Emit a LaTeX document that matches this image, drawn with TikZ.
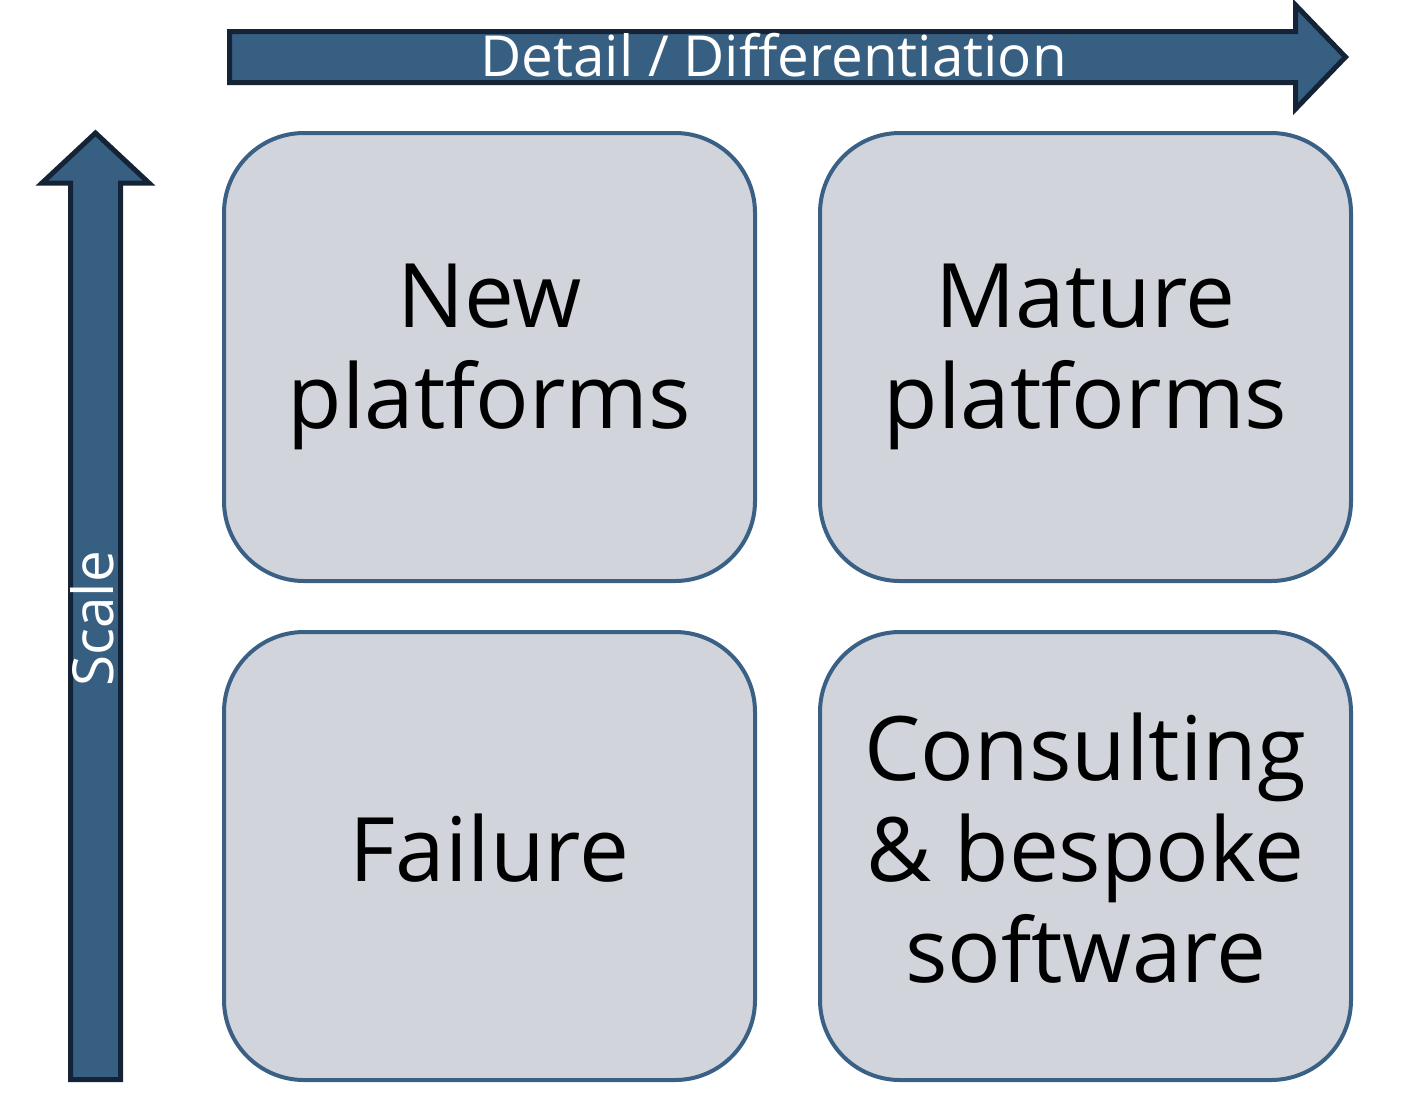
\documentclass[tikz,border=0pt]{standalone}
\usepackage{fontspec}
\setmainfont{Open Sans}
\usetikzlibrary{positioning}
\definecolor{arrowblue}{RGB}{55,95,130}
\definecolor{arrowedge}{RGB}{20,36,54}
\definecolor{boxedge}{RGB}{58,96,133}
\definecolor{boxfill}{RGB}{209,213,219}

\begin{document}
\begin{tikzpicture}[x=0.5pt,y=-0.5pt,
  quad/.style={draw=boxedge,fill=boxfill,line width=2pt,rounded corners=40pt,
    minimum width=265.5pt,minimum height=224pt,align=center,
    font=\fontsize{44.5}{50.5}\selectfont},
  axis/.style={draw=arrowedge,fill=arrowblue,line width=2.5pt,line join=miter},
  axislabel/.style={text=white,inner sep=0pt,font=\fontsize{28.3}{30}\selectfont}]
\useasboundingbox (0,0) rectangle (1406,1110);
% axes
\draw[axis] (229.5,31.5) -- (1295.5,31.5) -- (1295.5,5) -- (1345.5,57)
  -- (1295.5,109) -- (1295.5,82.5) -- (229.5,82.5) -- cycle;
\node[axislabel] (detail) at (773.5,55) {Detail / Differentiation};
\draw[axis] (70.5,1079.5) -- (70.5,183) -- (42,183) -- (95.5,133)
  -- (149,183) -- (120.5,183) -- (120.5,1079.5) -- cycle;
\node[axislabel,rotate=90] (scale) at (92.5,619) {Scale};
% quadrants
\node[quad] (newplat) at (489.5,357) {New\\platforms};
\node[quad,right=30.5pt of newplat] (matplat) {Mature\\platforms};
\node[quad,below=23.5pt of newplat,text depth=8pt] (failure) {Failure};
\node[quad,right=30.5pt of failure,text depth=8pt] (consult) {Consulting\\\& bespoke\\software};
\end{tikzpicture}
\end{document}
